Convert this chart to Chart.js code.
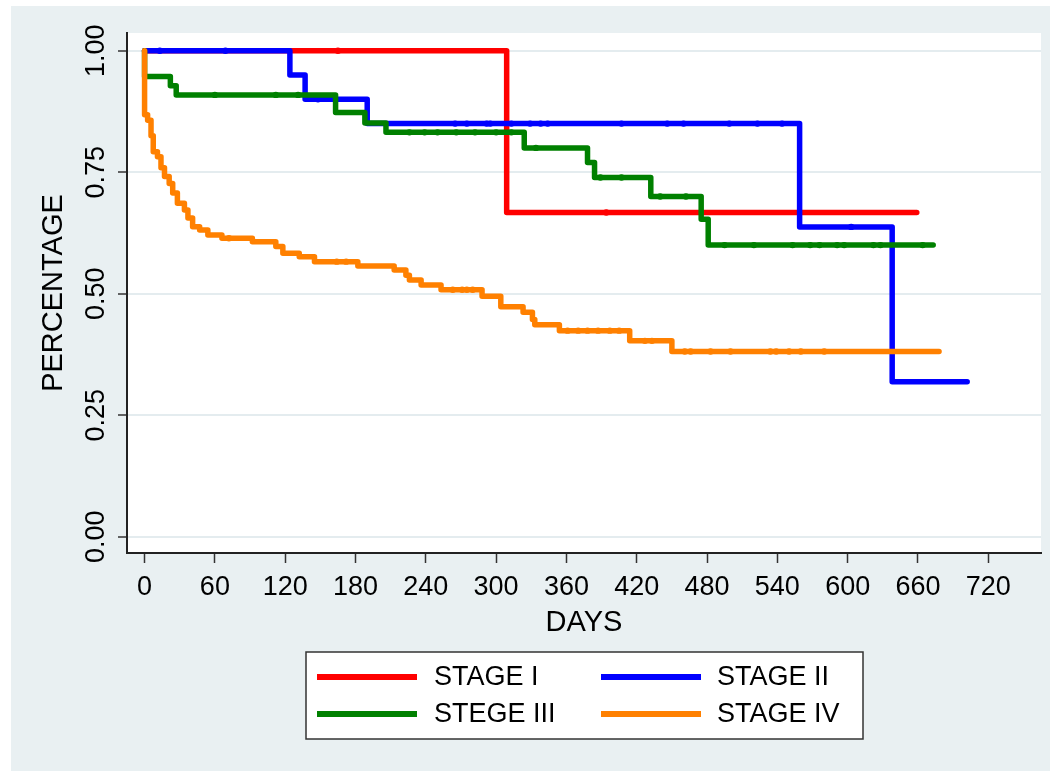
<!DOCTYPE html>
<html><head><meta charset="utf-8">
<script src="https://cdn.jsdelivr.net/npm/chart.js@4/dist/chart.umd.min.js"></script>
<style>html,body{margin:0;padding:0;background:#fff;} canvas{display:block}</style>
</head><body>
<canvas id="c" width="1050" height="771"></canvas>
<script>
// ---- data ----
const seriesNames = ['STAGE I', 'STAGE II', 'STEGE III', 'STAGE IV'];
const seriesColors = ['#ff0000', '#0000ff', '#008000', '#ff8000'];

const xTicks = [0, 60, 120, 180, 240, 300, 360, 420, 480, 540, 600, 660, 720];
const yTicks = [0, 0.25, 0.5, 0.75, 1];

const stage1Days = [0, 309, 659];
const stage1Surv = [1, 0.667, 0.667];
const stage1Censor = [165, 394];

const stage2Days = [0, 124, 137, 190, 559, 638, 702];
const stage2Surv = [1, 0.95, 0.90, 0.85, 0.6375, 0.319, 0.319];
const stage2Censor = [13, 69, 148, 265, 275, 292, 295, 313, 329, 338, 344, 407, 446, 460, 499, 523, 544, 603];

const stage3Days = [0, 0, 22, 27, 163, 188, 206, 324, 378, 384, 432, 475, 481, 673];
const stage3Surv = [1, 0.947, 0.928, 0.909, 0.873, 0.851, 0.832, 0.800, 0.770, 0.739, 0.700, 0.653, 0.600, 0.600];
const stage3Censor = [60, 112, 131, 226, 239, 250, 266, 282, 300, 313, 334, 389, 407, 440, 462, 495, 520, 553, 568, 576, 591, 597, 622, 628, 664];

const stage4Days = [0, 0, 2.6, 5.5, 7.4, 11, 14, 17, 21, 24, 28, 34, 37, 41, 47, 54, 66, 92, 112, 118, 132, 145, 182, 213, 223, 226, 236, 253, 288, 304, 323, 331, 333, 354, 414, 450, 678];
const stage4Surv = [1, 0.868, 0.857, 0.825, 0.792, 0.782, 0.759, 0.741, 0.727, 0.707, 0.686, 0.672, 0.656, 0.638, 0.631, 0.621, 0.614, 0.607, 0.597, 0.583, 0.576, 0.566, 0.557, 0.549, 0.538, 0.528, 0.518, 0.508, 0.495, 0.473, 0.462, 0.447, 0.436, 0.424, 0.403, 0.381, 0.381];
const stage4Censor = [72, 164, 172, 263, 271, 275, 280, 361, 370, 378, 387, 397, 405, 427, 433, 461, 466, 483, 500, 534, 539, 550, 560, 580];

// ---- build datasets ----
function survAt(days, surv, t) {
  let s = surv[0];
  for (let i = 0; i < days.length; i++) { if (days[i] <= t) s = surv[i]; }
  return s;
}
function buildPoints(days, surv, censor) {
  const pts = days.map((d, i) => ({x: d, y: surv[i], c: false, k: i}));
  censor.forEach(t => pts.push({x: t, y: survAt(days, surv, t), c: true, k: 1000}));
  pts.sort((a, b) => a.x - b.x || a.k - b.k);
  return pts;
}
const allDays = [stage1Days, stage2Days, stage3Days, stage4Days];
const allSurv = [stage1Surv, stage2Surv, stage3Surv, stage4Surv];
const allCensor = [stage1Censor, stage2Censor, stage3Censor, stage4Censor];

const FONT = "'Liberation Sans', Arial, Helvetica, sans-serif";

const datasets = seriesNames.map((name, i) => ({
  label: name,
  data: buildPoints(allDays[i], allSurv[i], allCensor[i]),
  borderColor: seriesColors[i],
  backgroundColor: seriesColors[i],
  borderWidth: 5.5,
  stepped: true,
  fill: false,
  order: 4 - i,
  borderCapStyle: 'round',
  borderJoinStyle: 'round',
  pointRadius: ctx => (ctx.raw && ctx.raw.c ? 3.2 : 0),
  pointBorderWidth: 0,
  pointHoverRadius: 0
}));

const bgPlugin = {
  id: 'bg',
  beforeDraw(chart) {
    const ctx = chart.ctx, a = chart.chartArea;
    ctx.save();
    ctx.fillStyle = '#ffffff';
    ctx.fillRect(0, 0, chart.width, chart.height);
    ctx.fillStyle = '#e9f0f2';
    ctx.fillRect(11, 6, chart.width - 11, chart.height - 6);
    ctx.fillStyle = '#ffffff';
    ctx.fillRect(a.left, a.top, a.right - a.left, a.bottom - a.top);
    ctx.restore();
  }
};

const legendPlugin = {
  id: 'boxLegend',
  afterDraw(chart) {
    const ctx = chart.ctx;
    ctx.save();
    ctx.fillStyle = '#ffffff';
    ctx.fillRect(306, 652, 557, 87);
    ctx.strokeStyle = '#333333';
    ctx.lineWidth = 1.5;
    ctx.strokeRect(306, 652, 557, 87);
    const cols = [[317, 434], [601, 717]];
    const rows = [677, 714];
    chart.data.datasets.forEach((ds, i) => {
      const col = cols[i % 2], row = rows[Math.floor(i / 2)];
      ctx.strokeStyle = ds.borderColor;
      ctx.lineWidth = 6;
      ctx.lineCap = 'butt';
      ctx.beginPath();
      ctx.moveTo(col[0], row);
      ctx.lineTo(col[0] + 100, row);
      ctx.stroke();
      ctx.fillStyle = '#000000';
      ctx.font = '27px ' + FONT;
      ctx.textBaseline = 'middle';
      ctx.textAlign = 'left';
      ctx.fillText(ds.label, col[1], row + 1);
    });
    ctx.restore();
  }
};

new Chart(document.getElementById('c'), {
  type: 'line',
  data: {datasets},
  plugins: [bgPlugin, legendPlugin],
  options: {
    responsive: false,
    animation: false,
    events: [],
    layout: {padding: {left: 0, right: 9, top: 33, bottom: 0}},
    plugins: {legend: {display: false}, tooltip: {enabled: false}},
    scales: {
      x: {
        type: 'linear',
        min: -15, max: 765,
        afterBuildTicks: s => { s.ticks = xTicks.map(v => ({value: v})); },
        afterFit: s => { s.height = 218; },
        grid: {drawOnChartArea: false, drawTicks: true, tickLength: 10, tickColor: '#333', tickWidth: 1.5},
        border: {display: true, color: '#222', width: 2},
        ticks: {font: {family: FONT, size: 27}, color: '#000', padding: 8, maxRotation: 0, minRotation: 0, autoSkip: false,
                callback: v => String(v)},
        title: {display: true, text: 'DAYS', color: '#000', font: {family: FONT, size: 29}, padding: {top: 0, bottom: 131}}
      },
      y: {
        type: 'linear',
        min: -0.0335, max: 1.0364,
        afterBuildTicks: s => { s.ticks = yTicks.map(v => ({value: v})); },
        afterFit: s => { s.width = 127; },
        grid: {color: '#e4ecef', lineWidth: 2, drawTicks: true, tickLength: 9, tickColor: '#333', tickWidth: 1.5},
        border: {display: true, color: '#222', width: 2},
        ticks: {font: {family: FONT, size: 27}, color: '#000', minRotation: 90, maxRotation: 90, crossAlign: 'center', padding: -5,
                callback: v => Number(v).toFixed(2)},
        title: {display: true, text: 'PERCENTAGE', color: '#000', font: {family: FONT, size: 29}, padding: {top: 37, bottom: 0}}
      }
    }
  }
});
</script>
</body></html>
